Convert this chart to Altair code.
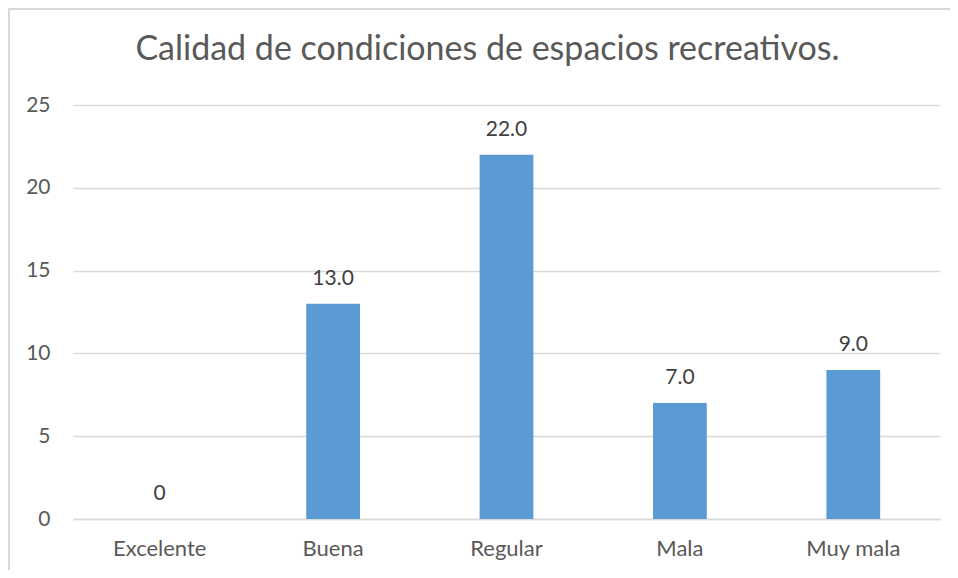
import altair as alt
import pandas as pd

categories = ["Excelente", "Buena", "Regular", "Mala", "Muy mala"]
values = [0, 13, 22, 7, 9]
y_ticks = [0, 5, 10, 15, 20, 25]
title_text = "Calidad de condiciones de espacios recreativos."

df = pd.DataFrame({"cat": categories, "v": values})

FONT = "Lato"
W, H = 867, 414

base = alt.Chart(df).encode(
    x=alt.X(
        "cat:N",
        sort=categories,
        title=None,
        scale=alt.Scale(paddingInner=0.69, paddingOuter=0.345),
        axis=alt.Axis(
            labelAngle=0, labelFont=FONT, labelFontSize=22, labelColor="#595959",
            labelPadding=19, ticks=False, domain=True, domainColor="#d9d9d9",
            domainWidth=1.5, grid=False,
        ),
    ),
)

bars = base.mark_bar(color="#5b9bd5").encode(
    y=alt.Y(
        "v:Q",
        title=None,
        scale=alt.Scale(domain=[0, 25], nice=False),
        axis=alt.Axis(
            values=y_ticks, labelFont=FONT, labelFontSize=21, labelColor="#595959",
            labelPadding=23, ticks=False, domain=False, grid=True,
            gridColor="#d9d9d9", gridWidth=1.5,
        ),
    )
)

labels = base.transform_calculate(
    lab="datum.v == 0 ? '0' : format(datum.v, '.1f')"
).mark_text(
    font=FONT, fontSize=21, color="#404040", baseline="alphabetic", dy=-19
).encode(y="v:Q", text="lab:N")

frame_left = alt.Chart(df).mark_rule(color="#d9d9d9", strokeWidth=2).encode(
    x=alt.value(-64), y=alt.value(-97), y2=alt.value(H + 60)
)
frame_top = alt.Chart(df).mark_rule(color="#d9d9d9", strokeWidth=2).encode(
    y=alt.value(-96), x=alt.value(-65), x2=alt.value(W + 30)
)

chart = alt.layer(frame_left, frame_top, bars, labels).properties(
    width=W,
    height=H,
    title=alt.TitleParams(
        title_text, font=FONT, fontSize=34, fontWeight="normal", color="#595959",
        anchor="middle", baseline="alphabetic", offset=0, dy=87, dx=-19,
    ),
    autosize=alt.AutoSizeParams(type="none"),
    padding={"left": 65, "top": 97, "right": 10, "bottom": 51},
).configure_view(stroke=None)

chart.save("out.html", embed_options={"renderer": "svg", "actions": False})
